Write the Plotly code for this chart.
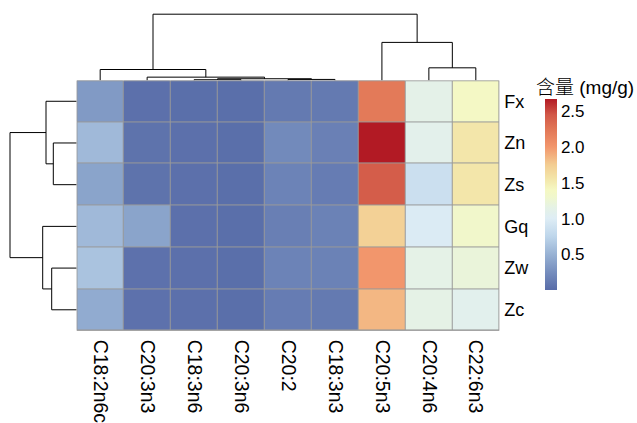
import plotly.graph_objects as go

# Fatty acid content (mg/g) per sample, in clustered display order
columns = ["C18:2n6c", "C20:3n3", "C18:3n6", "C20:3n6", "C20:2",
           "C18:3n3", "C20:5n3", "C20:4n6", "C22:6n3"]
samples = ["Fx", "Zn", "Zs", "Gq", "Zw", "Zc"]

content_fx = [0.33, 0.03, 0.02, 0.02, 0.10, 0.10, 2.22, 1.13, 1.38]
content_zn = [0.55, 0.05, 0.03, 0.02, 0.22, 0.15, 2.67, 1.10, 1.55]
content_zs = [0.40, 0.05, 0.03, 0.02, 0.17, 0.12, 2.42, 0.85, 1.55]
content_gq = [0.55, 0.40, 0.03, 0.02, 0.14, 0.16, 1.72, 0.98, 1.32]
content_zw = [0.62, 0.04, 0.03, 0.02, 0.17, 0.16, 2.00, 1.14, 1.22]
content_zc = [0.45, 0.04, 0.03, 0.02, 0.12, 0.10, 1.85, 1.15, 1.08]

# Hierarchical clustering merges: (left node, right node, height)
# leaves are 0..n-1 in display order, merged clusters get n, n+1, ...
col_merges = [(2, 3, 0.7), (4, 5, 1.0), (9, 10, 1.7), (1, 11, 3.3),
              (0, 12, 11.0), (7, 8, 12.7), (6, 14, 38.3), (13, 15, 66.7)]
row_merges = [(1, 2, 23.4), (4, 5, 25.0), (0, 6, 30.7), (3, 7, 34.0),
              (8, 9, 66.7)]

colorbar_ticks = [0.5, 1.0, 1.5, 2.0, 2.5]

z = [content_fx, content_zn, content_zs, content_gq, content_zw, content_zc]
zmin = 0.0
zmax = max(max(r) for r in z)

# value -> colour anchors for the diverging palette
palette = [
    (0.00, "rgb(88,108,168)"), (0.25, "rgb(118,142,190)"),
    (0.50, "rgb(152,178,212)"), (0.75, "rgb(190,214,235)"),
    (1.00, "rgb(222,237,245)"), (1.15, "rgb(229,242,230)"),
    (1.30, "rgb(240,247,205)"), (1.40, "rgb(245,248,195)"),
    (1.55, "rgb(243,230,170)"), (1.75, "rgb(243,205,146)"),
    (2.00, "rgb(242,150,108)"), (2.25, "rgb(225,118,86)"),
    (2.45, "rgb(210,88,72)"), (2.67, "rgb(178,26,36)"),
]
colorscale = [[(v - zmin) / (palette[-1][0] - zmin), c] for v, c in palette]


def dendro_segments(n_leaves, merges):
    pos = {i: float(i) for i in range(n_leaves)}
    hgt = {i: 0.0 for i in range(n_leaves)}
    p_list, h_list = [], []
    for k, (a, b, h) in enumerate(merges):
        node = n_leaves + k
        p_list += [pos[a], pos[a], pos[b], pos[b], None]
        h_list += [hgt[a], h, h, hgt[b], None]
        pos[node] = (pos[a] + pos[b]) / 2
        hgt[node] = h
    return p_list, h_list


W, H = 637, 423
hm_left, hm_right = 76.7 / W, 499.3 / W
hm_top, hm_bottom = 1 - 81 / H, 1 - 333 / H

fig = go.Figure()

fig.add_trace(go.Heatmap(
    z=z, x=list(range(len(columns))), y=list(range(len(samples))),
    colorscale=colorscale, zmin=zmin, zmax=palette[-1][0],
    xgap=1, ygap=1, hoverinfo="skip",
    colorbar=dict(
        thickness=12, thicknessmode="pixels",
        len=191, lenmode="pixels",
        x=545 / W, xanchor="left", y=1 - 196.2 / H, yanchor="middle",
        xpad=0, ypad=0, outlinewidth=0, ticks="",
        tickvals=colorbar_ticks, ticktext=[f"{t:.1f}" for t in colorbar_ticks],
        tickfont=dict(family="Liberation Sans, Arial", size=17, color="#000000"),
    ),
))

cx, ch = dendro_segments(len(columns), col_merges)
fig.add_trace(go.Scatter(x=cx, y=ch, mode="lines", xaxis="x2", yaxis="y2",
                         line=dict(color="#000000", width=1),
                         hoverinfo="skip", showlegend=False))

ry, rh = dendro_segments(len(samples), row_merges)
fig.add_trace(go.Scatter(x=rh, y=ry, mode="lines", xaxis="x3", yaxis="y3",
                         line=dict(color="#000000", width=1),
                         hoverinfo="skip", showlegend=False))

row_font = dict(family="Liberation Sans, Arial", size=18, color="#000000")
col_font = dict(family="Liberation Sans, Arial", size=19.5, color="#000000")
hidden = dict(showgrid=False, zeroline=False, showticklabels=False,
              ticks="", showline=False)

fig.update_layout(
    width=W, height=H,
    margin=dict(l=0, r=0, t=0, b=0),
    paper_bgcolor="white", plot_bgcolor="white",
    showlegend=False,
    xaxis=dict(domain=[hm_left, hm_right], range=[-0.5, len(columns) - 0.5],
               tickvals=list(range(len(columns))), ticktext=columns,
               tickangle=90, ticks="", showgrid=False, zeroline=False,
               tickfont=col_font, ticklabelstandoff=8, anchor="y"),
    yaxis=dict(domain=[hm_bottom, hm_top], range=[len(samples) - 0.5, -0.5],
               tickvals=list(range(len(samples))), ticktext=samples,
               side="right", ticks="", showgrid=False, zeroline=False,
               tickfont=row_font, ticklabelstandoff=4, anchor="x"),
    xaxis2=dict(domain=[hm_left, hm_right], range=[-0.5, len(columns) - 0.5],
                anchor="y2", **hidden),
    yaxis2=dict(domain=[hm_top, 1.0], range=[0, 81], anchor="x2", **hidden),
    xaxis3=dict(domain=[0, hm_left], range=[76.7, 0], anchor="y3", **hidden),
    yaxis3=dict(domain=[hm_bottom, hm_top], range=[len(samples) - 0.5, -0.5],
                anchor="x3", **hidden),
)

# grey cell borders: grey backing under the gapped bricks plus an outer frame
n_c, n_r = len(columns), len(samples)
fig.add_shape(type="rect", xref="x", yref="y", x0=-0.5, x1=n_c - 0.5,
              y0=-0.5, y1=n_r - 0.5, fillcolor="#999999",
              line=dict(width=0), layer="below")
fig.add_shape(type="rect", xref="x", yref="y", x0=-0.5, x1=n_c - 0.5,
              y0=-0.5, y1=n_r - 0.5, fillcolor="rgba(0,0,0,0)",
              line=dict(color="#999999", width=1.5), layer="above")

fig.add_annotation(text="含量 (mg/g)", xref="paper", yref="paper",
                   x=534 / W, y=1 - 88 / H, xanchor="left", yanchor="middle",
                   showarrow=False,
                   font=dict(family="Liberation Sans, Noto Sans CJK SC",
                             size=19, weight=300, color="#000000"))

fig.write_html("out.html")
